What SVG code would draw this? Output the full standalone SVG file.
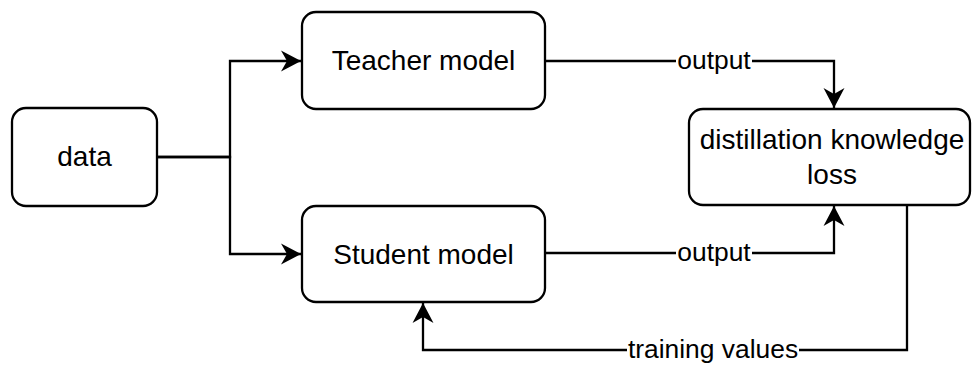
<svg xmlns="http://www.w3.org/2000/svg" width="972" height="365" viewBox="0 0 972 365">
  <style>
    .node { fill: #ffffff; stroke: #000000; stroke-width: 2.3; }
    .ntext { font-family: "Liberation Sans", Arial, sans-serif; font-size: 28px; fill: #000000; text-anchor: middle; }
    .edge { fill: none; stroke: #000000; stroke-width: 2.3; }
    .lbg { fill: #ffffff; stroke: none; }
    .ltext { font-family: "Liberation Sans", Arial, sans-serif; font-size: 26.4px; fill: #000000; text-anchor: middle; }
  </style>
  <defs>
    <marker id="arrow" markerUnits="userSpaceOnUse" viewBox="-21 -11 22 22" refX="0" refY="0" markerWidth="22" markerHeight="22" orient="auto">
      <path d="M0,0 L-20,-10.5 L-14,0 L-20,10.5 Z" fill="#000000" stroke="none"/>
    </marker>
  </defs>
  <rect width="972" height="365" fill="#ffffff"/>

  <g id="connectors">
    <path class="edge" d="M157,157 H230 V61 H301" marker-end="url(#arrow)"/>
    <path class="edge" d="M157,157 H230 V254 H301" marker-end="url(#arrow)"/>
    <path class="edge" d="M545,61 H834 V108" marker-end="url(#arrow)"/>
    <path class="edge" d="M545,253 H834 V206" marker-end="url(#arrow)"/>
    <path class="edge" d="M907,206 V350 H423 V303" marker-end="url(#arrow)"/>
    <g id="label-output-top">
      <rect class="lbg" x="676" y="48" width="76" height="26"/>
      <text class="ltext" x="714" y="69">output</text>
    </g>
    <g id="label-output-bottom">
      <rect class="lbg" x="676" y="240" width="76" height="26"/>
      <text class="ltext" x="714" y="261">output</text>
    </g>
    <g id="label-training">
      <rect class="lbg" x="627" y="337" width="172" height="26"/>
      <text class="ltext" x="713" y="358">training values</text>
    </g>
  </g>

  <g id="node-data">
    <rect class="node" x="12" y="108" width="145" height="98" rx="14" ry="14"/>
    <text class="ntext" x="84.5" y="166">data</text>
  </g>
  <g id="node-teacher">
    <rect class="node" x="302" y="12" width="243" height="97" rx="14" ry="14"/>
    <text class="ntext" x="423.5" y="70">Teacher model</text>
  </g>
  <g id="node-student">
    <rect class="node" x="302" y="206" width="243" height="96" rx="14" ry="14"/>
    <text class="ntext" x="423.5" y="264">Student model</text>
  </g>
  <g id="node-loss">
    <rect class="node" x="689" y="109" width="281" height="96" rx="14" ry="14"/>
    <text class="ntext" x="832" y="149">distillation knowledge</text>
    <text class="ntext" x="832" y="184">loss</text>
  </g>
</svg>
